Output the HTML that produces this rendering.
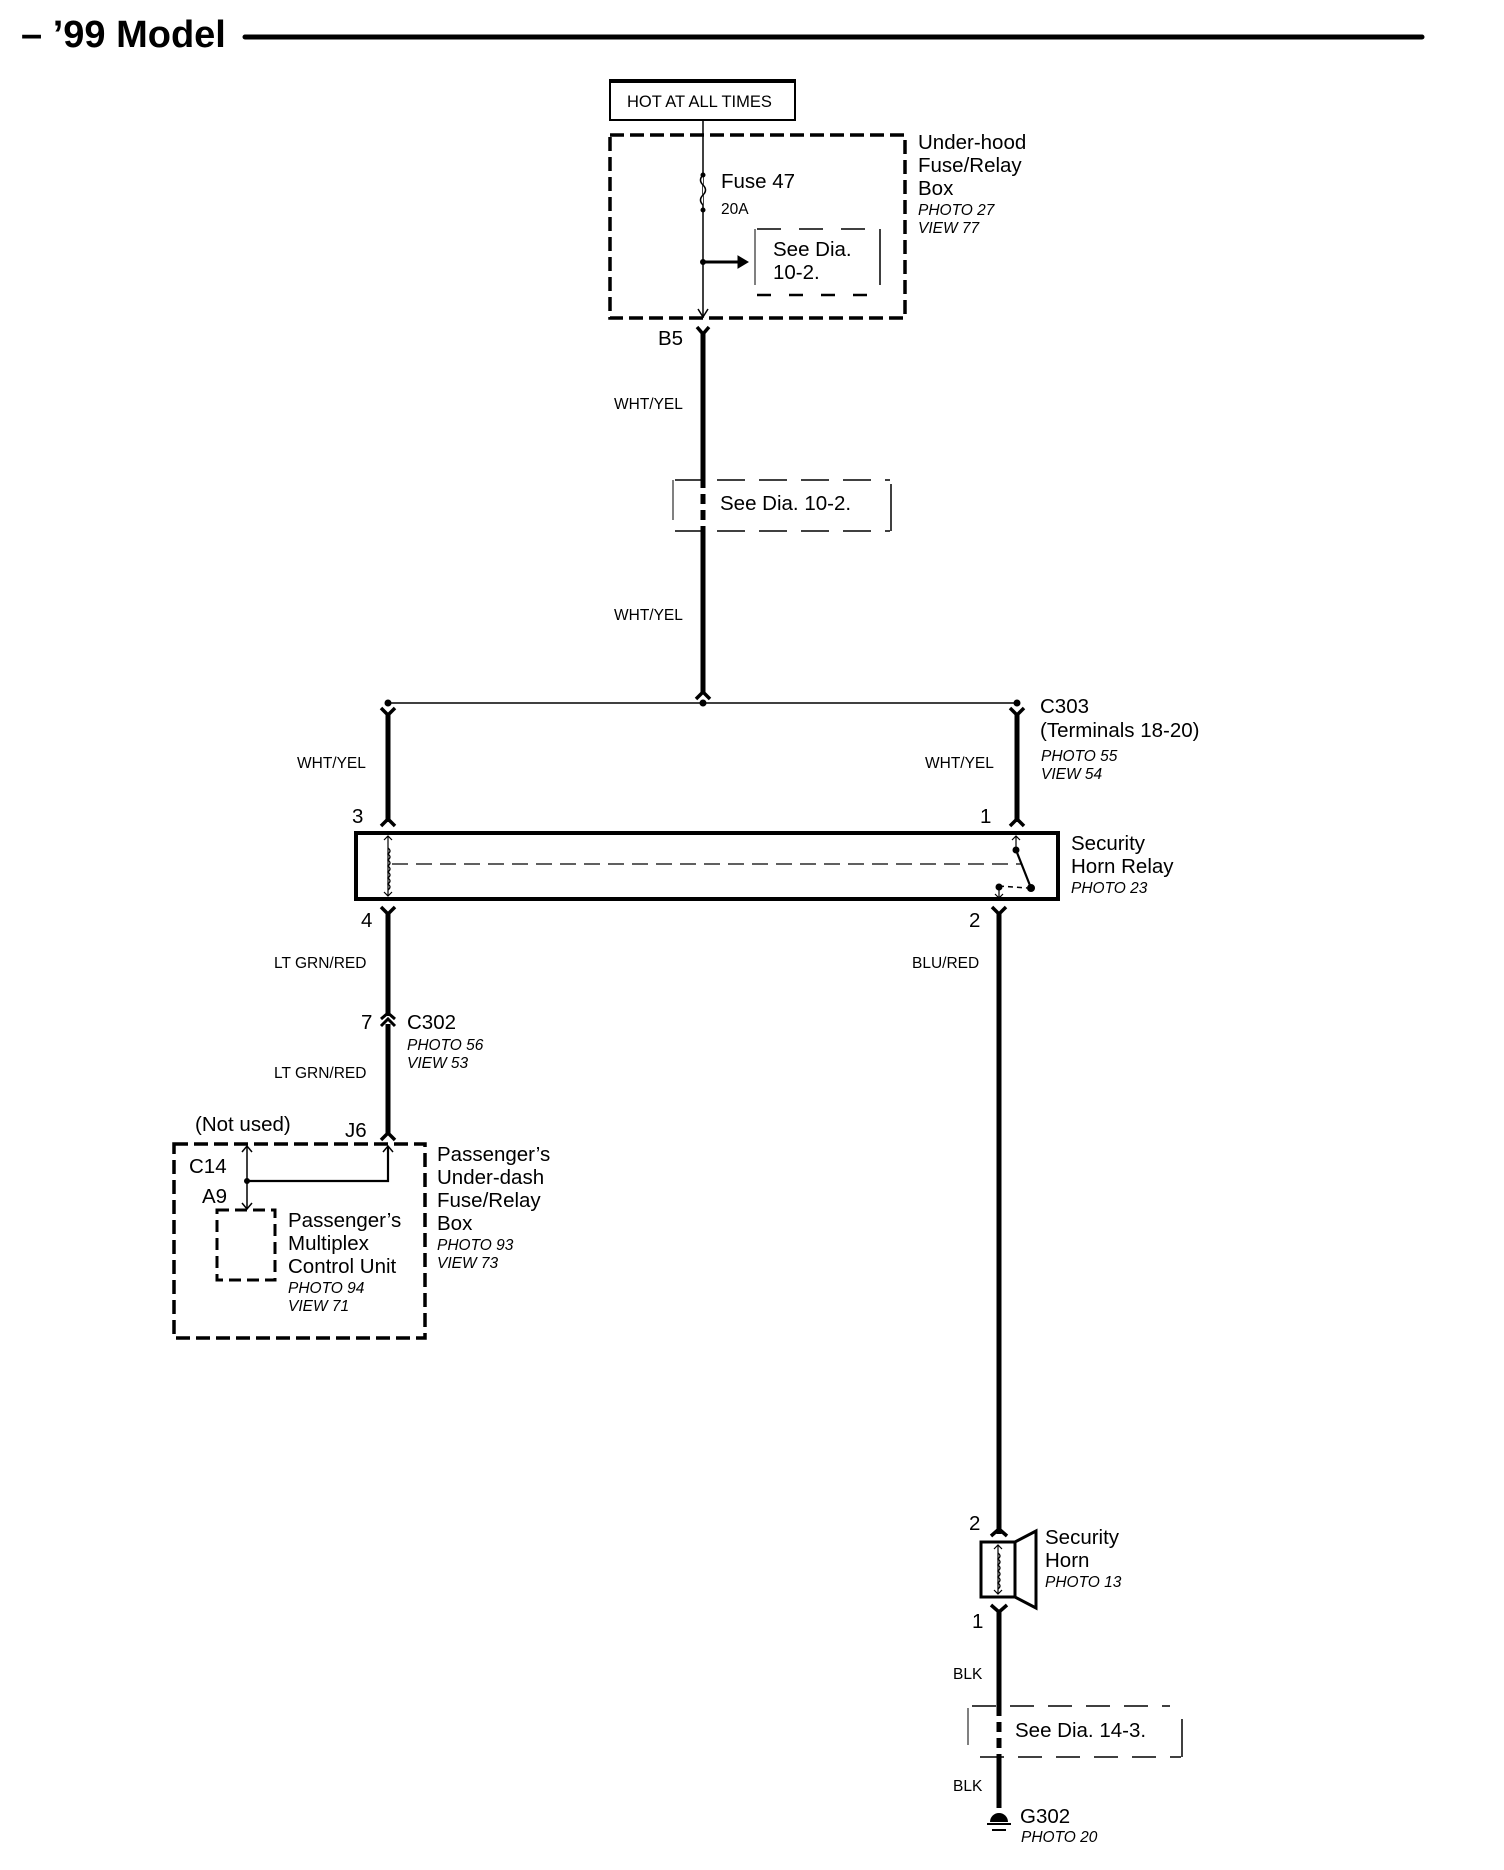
<!DOCTYPE html>
<html><head><meta charset="utf-8"><style>
html,body{margin:0;padding:0;background:#fff;}
svg{display:block;}
text{font-family:"Liberation Sans",Arial,sans-serif;fill:#000;}
.l{font-size:20.5px;}
.s{font-size:15.5px;}
.i{font-size:15.5px;font-style:italic;}
</style></head><body>
<svg width="1504" height="1870" viewBox="0 0 1504 1870" xmlns="http://www.w3.org/2000/svg">
<g stroke="#000" fill="none">
<line x1="245" y1="37" x2="1422" y2="37" stroke-width="5" stroke-linecap="round"/>
<rect x="610" y="82" width="185" height="38" stroke-width="2"/>
<line x1="609" y1="81" x2="796" y2="81" stroke-width="4"/>
<rect x="610" y="135" width="295" height="183" stroke-width="3.5" stroke-dasharray="14,6"/>
<line x1="703" y1="121" x2="703" y2="318" stroke-width="1.5"/>
<path d="M703 175 q-5 5 0 10 q5 5 0 10 q-5 5 0 10" stroke-width="1.5" fill="#fff"/>
<circle cx="703" cy="175" r="2" fill="#000"/><circle cx="703" cy="210" r="2" fill="#000"/>
<line x1="703" y1="262" x2="740" y2="262" stroke-width="3"/>
<path d="M738 256 L748 262 L738 268 Z" fill="#000"/>
<circle cx="703" cy="262" r="2.5" fill="#000"/>
<path d="M698 309 L703 317 L708 309" stroke-width="1.5"/>
<line x1="755" y1="229" x2="755" y2="285" stroke-width="1"/>
<line x1="880" y1="229" x2="880" y2="285" stroke-width="1.5"/>
<line x1="757" y1="229" x2="882" y2="229" stroke-width="1.5" stroke-dasharray="24,18"/>
<line x1="757" y1="295" x2="882" y2="295" stroke-width="2.5" stroke-dasharray="14,18"/>
<path d="M697 327 L703 334 L709 327" stroke-width="3.5"/>
<line x1="703" y1="333" x2="703" y2="478" stroke-width="5"/>
<line x1="703" y1="478" x2="703" y2="530" stroke-width="5" stroke-dasharray="10,6"/>
<line x1="703" y1="530" x2="703" y2="694" stroke-width="5"/>
<path d="M696 699 L703 692 L710 699" stroke-width="3.5"/>
<line x1="675" y1="480" x2="890" y2="480" stroke-width="1.5" stroke-dasharray="28,14"/>
<line x1="675" y1="531" x2="890" y2="531" stroke-width="1.5" stroke-dasharray="28,14"/>
<line x1="673" y1="480" x2="673" y2="520" stroke-width="1"/>
<line x1="891" y1="484" x2="891" y2="531" stroke-width="1.5"/>
<line x1="388" y1="703" x2="1017" y2="703" stroke-width="1.5"/>
<circle cx="703" cy="703" r="3" fill="#000"/>
<circle cx="388" cy="703" r="3" fill="#000"/>
<circle cx="1017" cy="703" r="3" fill="#000"/>
<path d="M381 708 L388 715 L395 708" stroke-width="3.5"/>
<line x1="388" y1="713" x2="388" y2="822" stroke-width="5"/>
<path d="M381 826 L388 819 L395 826" stroke-width="3.5"/>
<path d="M1010 708 L1017 715 L1024 708" stroke-width="3.5"/>
<line x1="1017" y1="713" x2="1017" y2="822" stroke-width="5"/>
<path d="M1010 826 L1017 819 L1024 826" stroke-width="3.5"/>
<rect x="356" y="833" width="702" height="66" stroke-width="4"/>
<line x1="388" y1="836" x2="388" y2="896" stroke-width="1.2"/>
<path d="M384 840 L388 836 L392 840 M384 892 L388 896 L392 892" stroke-width="1.2"/>
<path d="M388 848 q4 3 0 6 q4 3 0 6 q4 3 0 6 q4 3 0 6 q4 3 0 6 q4 3 0 6 q4 3 0 6" stroke-width="1.3"/>
<line x1="392" y1="864" x2="1022" y2="864" stroke-width="1.2" stroke-dasharray="16,8"/>
<line x1="1016" y1="836" x2="1016" y2="850" stroke-width="1.2"/>
<path d="M1012 840 L1016 836 L1020 840" stroke-width="1.2"/>
<circle cx="1016" cy="850" r="3" fill="#000"/>
<line x1="1016" y1="850" x2="1031" y2="888" stroke-width="2.2"/>
<circle cx="1031" cy="888" r="3.5" fill="#000"/>
<line x1="999" y1="886" x2="1027" y2="888" stroke-width="1.5" stroke-dasharray="5,4"/>
<circle cx="999" cy="887" r="3" fill="#000"/>
<line x1="999" y1="887" x2="999" y2="898" stroke-width="1.2"/>
<path d="M995 894 L999 898 L1003 894" stroke-width="1.2"/>
<path d="M381 907 L388 914 L395 907" stroke-width="3.5"/>
<line x1="388" y1="912" x2="388" y2="1016" stroke-width="5"/>
<path d="M381 1019 L388 1013 L395 1019 M381 1026 L388 1019 L395 1026" stroke-width="3"/>
<line x1="388" y1="1024" x2="388" y2="1134" stroke-width="5"/>
<path d="M381 1140 L388 1133 L395 1140" stroke-width="3.5"/>
<path d="M992 907 L999 914 L1006 907" stroke-width="3.5"/>
<line x1="999" y1="912" x2="999" y2="1534" stroke-width="5"/>
<path d="M991 1536 L999 1529 L1007 1536" stroke-width="3.5"/>
<rect x="174" y="1144" width="251" height="194" stroke-width="3.5" stroke-dasharray="14,6"/>
<line x1="247" y1="1147" x2="247" y2="1208" stroke-width="1.5"/>
<path d="M242 1152 L247 1146 L252 1152 M242 1203 L247 1209 L252 1203" stroke-width="1.5"/>
<polyline points="247,1181 388,1181 388,1147" stroke-width="2.2"/>
<path d="M383 1152 L388 1146 L393 1152" stroke-width="1.5"/>
<circle cx="247" cy="1181" r="2.5" fill="#000"/>
<rect x="217" y="1210" width="58" height="70" stroke-width="3" stroke-dasharray="12,6"/>
<rect x="981" y="1542" width="34" height="55" stroke-width="3"/>
<path d="M1015 1542 L1036 1531 L1036 1608 L1015 1597" stroke-width="3"/>
<line x1="998" y1="1545" x2="998" y2="1594" stroke-width="1.2"/>
<path d="M994 1549 L998 1545 L1002 1549 M994 1590 L998 1594 L1002 1590" stroke-width="1.2"/>
<path d="M998 1553 q4 3 0 6 q4 3 0 6 q4 3 0 6 q4 3 0 6 q4 3 0 6 q4 3 0 6" stroke-width="1.3"/>
<path d="M991 1605 L999 1612 L1007 1605" stroke-width="3.5"/>
<line x1="999" y1="1610" x2="999" y2="1706" stroke-width="5"/>
<line x1="999" y1="1706" x2="999" y2="1757" stroke-width="5" stroke-dasharray="10,6"/>
<line x1="999" y1="1757" x2="999" y2="1808" stroke-width="5"/>
<line x1="972" y1="1706" x2="1170" y2="1706" stroke-width="1.5" stroke-dasharray="24,14"/>
<line x1="980" y1="1757" x2="1181" y2="1757" stroke-width="1.5" stroke-dasharray="24,14"/>
<line x1="968" y1="1708" x2="968" y2="1745" stroke-width="1"/>
<line x1="1182" y1="1719" x2="1182" y2="1757" stroke-width="1.5"/>
<line x1="987" y1="1824" x2="1011" y2="1824" stroke-width="2"/>
<line x1="992" y1="1830" x2="1006" y2="1830" stroke-width="2"/>
</g>
<path d="M990 1822 A9 9 0 0 1 1008 1822 Z" fill="#000"/>
<text x="21" y="47" style="font-size:38px;font-weight:bold;">– ’99 Model</text>
<text x="627" y="107" style="font-size:16.5px;">HOT AT ALL TIMES</text>
<text class="l" x="918" y="149">Under-hood</text>
<text class="l" x="918" y="172">Fuse/Relay</text>
<text class="l" x="918" y="195">Box</text>
<text class="i" x="918" y="215">PHOTO 27</text>
<text class="i" x="918" y="233">VIEW 77</text>
<text class="l" x="721" y="188">Fuse 47</text>
<text class="s" x="721" y="214">20A</text>
<text class="l" x="773" y="256">See Dia.</text>
<text class="l" x="773" y="279">10-2.</text>
<text class="l" x="658" y="345">B5</text>
<text class="s" x="614" y="409">WHT/YEL</text>
<text class="l" x="720" y="510">See Dia. 10-2.</text>
<text class="s" x="614" y="620">WHT/YEL</text>
<text class="l" x="1040" y="713">C303</text>
<text class="l" x="1040" y="737">(Terminals 18-20)</text>
<text class="i" x="1041" y="761">PHOTO 55</text>
<text class="i" x="1041" y="779">VIEW 54</text>
<text class="s" x="297" y="768">WHT/YEL</text>
<text class="s" x="925" y="768">WHT/YEL</text>
<text class="l" x="352" y="823">3</text>
<text class="l" x="980" y="823">1</text>
<text class="l" x="1071" y="850">Security</text>
<text class="l" x="1071" y="873">Horn Relay</text>
<text class="i" x="1071" y="893">PHOTO 23</text>
<text class="l" x="361" y="927">4</text>
<text class="l" x="969" y="927">2</text>
<text class="s" x="274" y="968">LT GRN/RED</text>
<text class="s" x="912" y="968">BLU/RED</text>
<text class="l" x="361" y="1029">7</text>
<text class="l" x="407" y="1029">C302</text>
<text class="i" x="407" y="1050">PHOTO 56</text>
<text class="i" x="407" y="1068">VIEW 53</text>
<text class="s" x="274" y="1078">LT GRN/RED</text>
<text class="l" x="195" y="1131">(Not used)</text>
<text class="l" x="345" y="1137">J6</text>
<text class="l" x="189" y="1173">C14</text>
<text class="l" x="202" y="1203">A9</text>
<text class="l" x="288" y="1227">Passenger’s</text>
<text class="l" x="288" y="1250">Multiplex</text>
<text class="l" x="288" y="1273">Control Unit</text>
<text class="i" x="288" y="1293">PHOTO 94</text>
<text class="i" x="288" y="1311">VIEW 71</text>
<text class="l" x="437" y="1161">Passenger’s</text>
<text class="l" x="437" y="1184">Under-dash</text>
<text class="l" x="437" y="1207">Fuse/Relay</text>
<text class="l" x="437" y="1230">Box</text>
<text class="i" x="437" y="1250">PHOTO 93</text>
<text class="i" x="437" y="1268">VIEW 73</text>
<text class="l" x="969" y="1530">2</text>
<text class="l" x="972" y="1628">1</text>
<text class="l" x="1045" y="1544">Security</text>
<text class="l" x="1045" y="1567">Horn</text>
<text class="i" x="1045" y="1587">PHOTO 13</text>
<text class="s" x="953" y="1679">BLK</text>
<text class="l" x="1015" y="1737">See Dia. 14-3.</text>
<text class="s" x="953" y="1791">BLK</text>
<text class="l" x="1020" y="1823">G302</text>
<text class="i" x="1021" y="1842">PHOTO 20</text>
</svg>
</body></html>
